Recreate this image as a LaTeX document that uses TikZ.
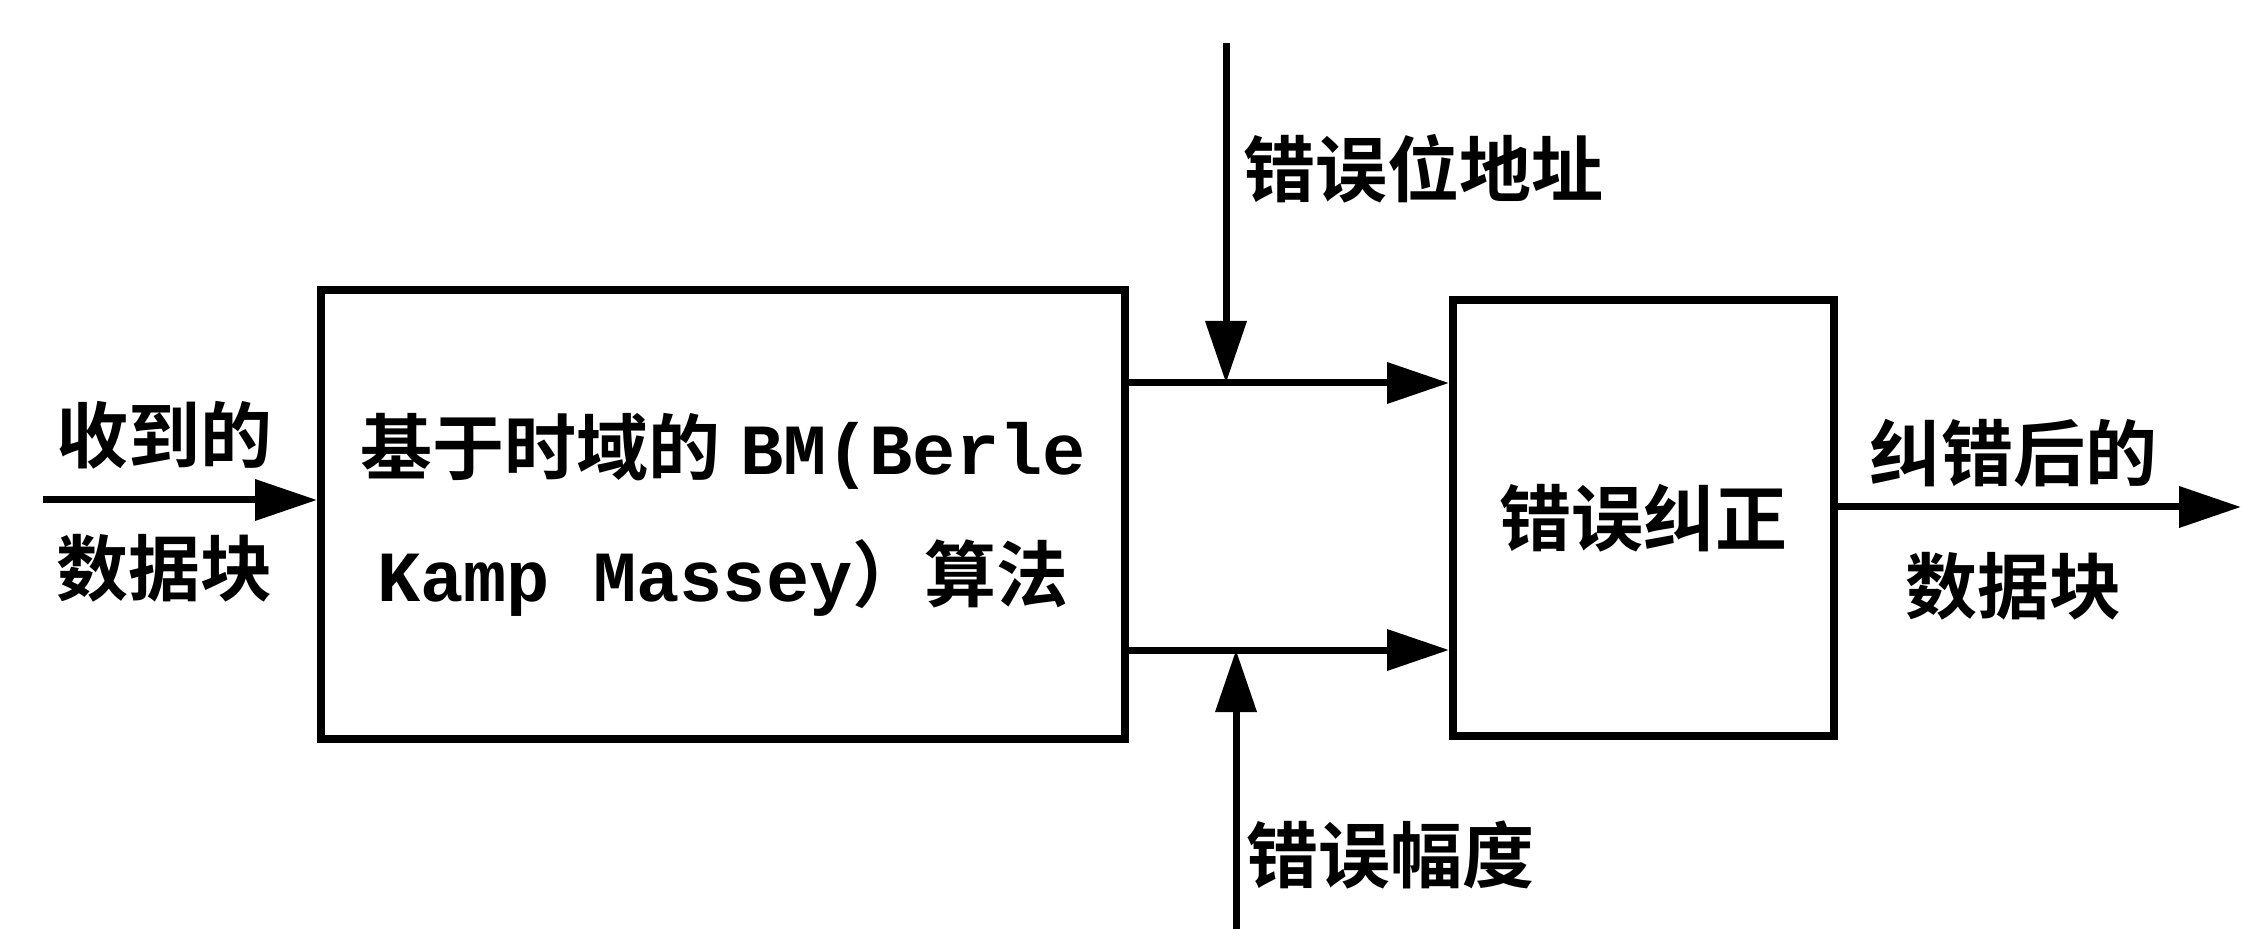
\documentclass[tikz,border=0pt]{standalone}
\usepackage{fontspec}
\setmainfont{Noto Sans CJK SC}[BoldFont={* Bold}]
\newfontfamily\cjk{Noto Sans CJK SC}[BoldFont={* Bold}]
\newfontfamily\mono{Liberation Mono}
\usetikzlibrary{arrows.meta}
\tikzset{
  blk/.style={draw, line width=4pt, rectangle, inner sep=0pt, align=center,
    font=\fontsize{36}{66.5}\selectfont\bfseries},
  lbl/.style={inner sep=0pt, align=center, font=\fontsize{36}{66.5}\selectfont\bfseries},
  arr/.style={line width=3.5pt, -{Triangle[length=31pt,width=20pt]}},
  plain/.style={line width=3.5pt}
}
\begin{document}
\begin{tikzpicture}[x=0.5pt,y=-0.5pt]
\useasboundingbox (0,0) rectangle (2241,929);
\node[blk, minimum width=402pt, minimum height=224.5pt] (b1) at (723,514.5)
  {\cjk 基于时域的\hspace{10pt}{\mono\bfseries BM(Berle}\\[-3pt]{\mono\bfseries Kamp Massey}\cjk ）算法};
\node[blk, minimum width=190.5pt, minimum height=218pt] (b2) at (1643.5,518) {\cjk 错误纠正};
\node[lbl] (lin) at (164,502) {收到的\\数据块};
\node[lbl] (lout) at (2013,520) {纠错后的\\数据块};
\node[lbl, anchor=west] (laddr) at (1243,169) {错误位地址};
\node[lbl, anchor=west] (lmag) at (1246,855) {错误幅度};
\coordinate (cin) at (43,500);
\coordinate (cout) at (2241,507);
\coordinate (ctop) at (1125,383);
\coordinate (cbot) at (1125,650);
\coordinate (cdown) at (1226,43);
\coordinate (cup) at (1236,929);
\draw[arr] (cin) -- (cin -| b1.west);
\draw[arr] (cout -| b2.east) -- (cout);
\draw[arr] (ctop) -- (ctop -| b2.west);
\draw[arr] (cbot) -- (cbot -| b2.west);
\draw[arr] (cdown) -- (cdown |- ctop);
\draw[arr] (cup) -- (cup |- cbot);
\end{tikzpicture}
\end{document}
